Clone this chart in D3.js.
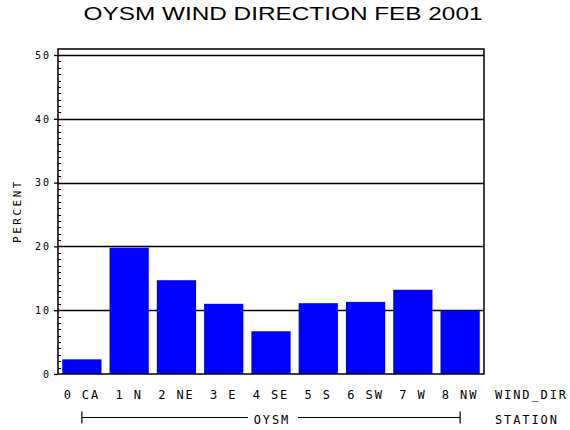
<!DOCTYPE html>
<html><head><meta charset="utf-8">
<script src="https://cdn.jsdelivr.net/npm/d3@7"></script>
<style>body{margin:0;background:#fff}svg{display:block}</style>
</head><body>
<script>
const categories = ["0 CA","1 N","2 NE","3 E","4 SE","5 S","6 SW","7 W","8 NW"];
const percents = [2.3, 19.8, 14.7, 11.0, 6.7, 11.1, 11.3, 13.2, 9.9];
const yTicks = [0,10,20,30,40,50];
const title = "OYSM WIND DIRECTION FEB 2001";
const station = "OYSM";

const W=570,H=430;
const svg=d3.select("body").append("svg").attr("width",W).attr("height",H);
const L=58,R=484,T=49,B=374;
const x=d3.scaleBand().domain(categories).range([L,R]).paddingInner(0.17).paddingOuter(0.09);
const y=d3.scaleLinear().domain([0,50]).range([B,55]);
const mono="'DejaVu Sans Mono', monospace";

svg.append("text").attr("x",283).attr("y",20).attr("text-anchor","middle")
  .attr("font-family","'Liberation Sans', Arial, sans-serif").attr("font-size",19)
  .attr("textLength",399).attr("lengthAdjust","spacingAndGlyphs").text(title);

// gridlines
svg.append("g").selectAll("line").data(yTicks.filter(d=>d>0)).join("line")
  .attr("x1",L).attr("x2",R).attr("y1",d=>Math.round(y(d))+0.5).attr("y2",d=>Math.round(y(d))+0.5)
  .attr("stroke","#000").attr("stroke-width",1.3);

// bars
svg.append("g").selectAll("rect").data(percents).join("rect")
  .attr("x",(d,i)=>x(categories[i])).attr("width",x.bandwidth())
  .attr("y",d=>y(d)).attr("height",d=>B-y(d)).attr("fill","#0000ff");

// frame
svg.append("path").attr("d",`M${L},${T}H${R}V${B}H${L}Z`).attr("fill","none").attr("stroke","#000").attr("stroke-width",1.5);

// y axis
const yAxis=d3.axisLeft(y).tickValues(yTicks).tickSize(4).tickPadding(3).tickFormat(d3.format("d"));
const ga=svg.append("g").attr("transform",`translate(${L},0)`).call(yAxis);
ga.select(".domain").remove();
ga.selectAll("line").attr("stroke","#000").attr("stroke-width",1.3);
ga.selectAll("text").attr("font-family",mono).attr("font-size",10).attr("letter-spacing",2).attr("fill","#000");
// minor ticks
svg.append("g").selectAll("line").data(d3.range(0,51).filter(d=>d%10)).join("line")
  .attr("x1",L).attr("x2",L+3).attr("y1",d=>Math.round(y(d))+0.5).attr("y2",d=>Math.round(y(d))+0.5)
  .attr("stroke","#000").attr("stroke-width",1);

svg.append("text").attr("transform","translate(21,211) rotate(-90)").attr("text-anchor","middle")
  .attr("font-family",mono).attr("font-size",11).attr("letter-spacing",2.5).text("PERCENT");

// x labels
svg.append("g").selectAll("text").data(categories).join("text")
  .attr("x",d=>x(d)+x.bandwidth()/2).attr("y",399).attr("text-anchor","middle")
  .attr("font-family",mono).attr("font-size",12).attr("letter-spacing",1.9).text(d=>d.replace(" ","\u00a0"));
svg.append("text").attr("x",495).attr("y",399).attr("font-family",mono).attr("font-size",12).attr("letter-spacing",1.9).text("WIND_DIR");
svg.append("text").attr("x",495).attr("y",424).attr("font-family",mono).attr("font-size",12).attr("letter-spacing",1.9).text("STATION");

// station bracket
const bx1=x(categories[0])+x.bandwidth()/2, bx2=x(categories[categories.length-1])+x.bandwidth()/2;
const by=417.5;
svg.append("text").attr("x",272).attr("y",424).attr("text-anchor","middle").attr("font-family",mono).attr("font-size",12).attr("letter-spacing",1.9).text(station);
const g2=svg.append("g").attr("stroke","#000").attr("stroke-width",1.2);
g2.append("line").attr("x1",bx1).attr("x2",248).attr("y1",by).attr("y2",by);
g2.append("line").attr("x1",298).attr("x2",bx2).attr("y1",by).attr("y2",by);
g2.append("line").attr("x1",bx1).attr("x2",bx1).attr("y1",by-6).attr("y2",by+6);
g2.append("line").attr("x1",bx2).attr("x2",bx2).attr("y1",by-6).attr("y2",by+6);
</script>
</body></html>
